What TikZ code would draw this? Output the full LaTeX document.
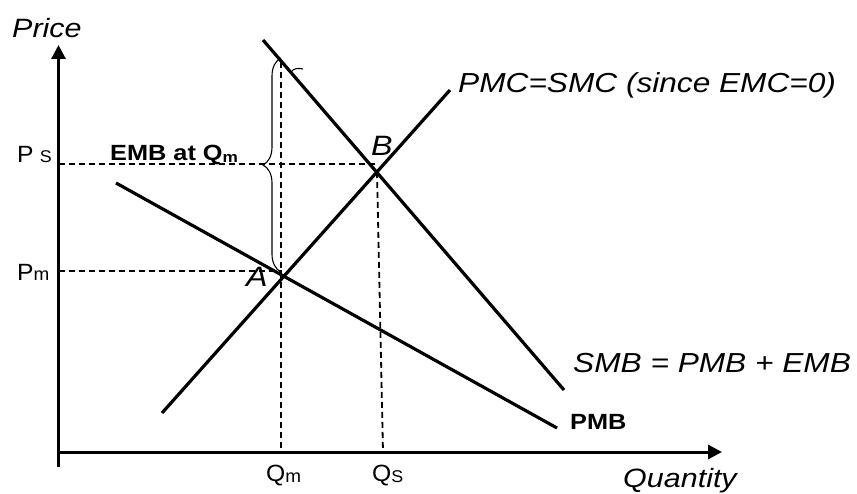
\documentclass[tikz,border=0pt]{standalone}
\usepackage{fontspec}
\setmainfont{Liberation Sans}
\usetikzlibrary{arrows.meta,decorations.pathreplacing}
\begin{document}
\begin{tikzpicture}[x=1pt,y=-1pt,
  axisline/.style={line width=3pt,-{Triangle[length=14pt,width=14pt]}},
  curveline/.style={line width=3.2pt},
  guideline/.style={line width=1.8pt,dash pattern=on 6pt off 4pt},
  thinline/.style={line width=1.1pt},
  lbl/.style={inner sep=0pt,anchor=base west,xscale=1.15},
  biglbl/.style={lbl,font=\fontsize{27.5}{30}\selectfont\itshape},
  axlbl/.style={lbl,font=\fontsize{26.5}{30}\selectfont\itshape},
  ptlbl/.style={lbl,font=\fontsize{28}{30}\selectfont\itshape},
  boldlbl/.style={lbl,font=\fontsize{22}{25}\selectfont\bfseries},
  pqlbl/.style={inner sep=0pt,anchor=base west,xscale=1.05,font=\fontsize{23.5}{25}\selectfont}
]
\useasboundingbox (0,0) rectangle (857,494);
% coordinates
\coordinate (ybot) at (58.5,467);
\coordinate (ytop) at (58.5,45);
\coordinate (xleft) at (58.5,452);
\coordinate (xright) at (722,452);
\coordinate (smb1) at (263,40);
\coordinate (smb2) at (564,390);
\coordinate (pmc1) at (162,413);
\coordinate (pmc2) at (450,90);
\coordinate (pmb1) at (116,183);
\coordinate (pmb2) at (557,428);
\coordinate (B) at (377,172);
\coordinate (psl) at (58.5,164);
\coordinate (psr) at (377,164);
\coordinate (pml) at (58.5,271);
\coordinate (pmr) at (282,271);
\coordinate (qmt) at (281,62);
\coordinate (qmb) at (281,452);
\coordinate (qsb) at (383,452);
\coordinate (brb) at (281,272);
\coordinate (brt) at (281,58);
\coordinate (arc1) at (291,72);
\coordinate (arc2) at (303,69);
% guides
\draw[guideline] (psl) -- (psr);
\draw[guideline] (pml) -- (pmr);
\draw[guideline] (qmt) -- (qmb);
\draw[guideline] (B) -- (qsb);
% brace
\draw[thinline,decorate,decoration={brace,amplitude=18pt}] (brb) -- (brt);
\draw[thinline] (arc1) .. controls (294,68) and (298,68) .. (arc2);
% axes
\draw[axisline] (ybot) -- (ytop);
\draw[axisline] (xleft) -- (xright);
% curves
\draw[curveline] (smb1) -- (smb2);
\draw[curveline] (pmc1) -- (pmc2);
\draw[curveline] (pmb1) -- (pmb2);
% labels
\node[axlbl] (price) at (12,38) {Price};
\node[axlbl] (quantity) at (623,487) {Quantity};
\node[biglbl] (pmclbl) at (458,93) {PMC=SMC (since EMC=0)};
\node[biglbl] (smblbl) at (573,373) {SMB = PMB + EMB};
\node[boldlbl] (pmblbl) at (570,429) {PMB};
\node[boldlbl] (emblbl) at (110,161) {EMB at Q\raisebox{-1.5pt}{\fontsize{15}{15}\selectfont m}};
\node[ptlbl] (alabel) at (246,287) {A};
\node[ptlbl] (blabel) at (371,156) {B};
\node[pqlbl] (pslbl) at (17,163) {P\hspace{6pt}{\fontsize{17}{17}\selectfont S}};
\node[pqlbl] (pmlbl) at (17,281) {P{\fontsize{18}{18}\selectfont m}};
\node[pqlbl] (qmlbl) at (266,481) {Q\raisebox{-1.5pt}{\fontsize{18}{18}\selectfont m}};
\node[pqlbl] (qslbl) at (372,481) {Q\raisebox{-1pt}{\fontsize{17}{17}\selectfont S}};
\end{tikzpicture}
\end{document}
